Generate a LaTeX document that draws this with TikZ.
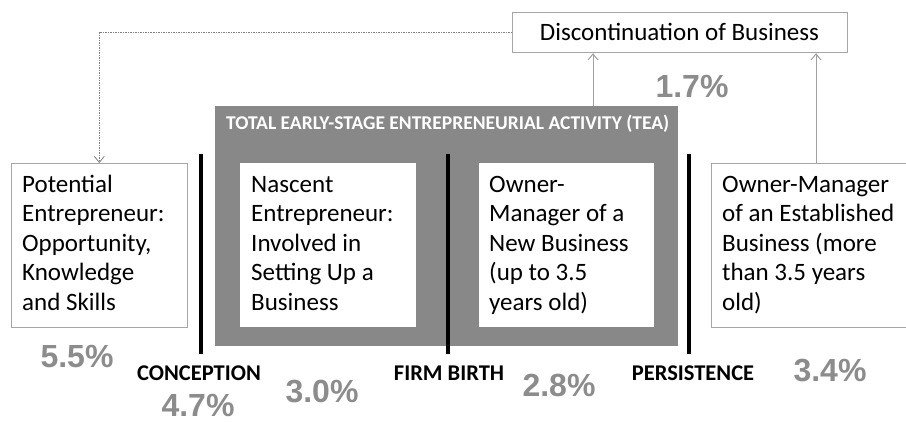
\documentclass[tikz,border=0pt]{standalone}
\usepackage{fontspec}
\setmainfont{Carlito}
\newfontfamily\pctfont{Liberation Sans}
\usetikzlibrary{arrows.meta}
\definecolor{teagray}{HTML}{888888}
\definecolor{pctgray}{HTML}{8C8C8C}
\definecolor{boxgray}{HTML}{A6A6A6}
\definecolor{linegray}{HTML}{A0A0A0}
\begin{document}
\begin{tikzpicture}[x=1pt,y=-1pt,
  framebox/.style={draw=boxgray,line width=1.2pt,fill=white,anchor=north west,inner sep=0pt,minimum height=164pt},
  innerbox/.style={fill=white,anchor=north west,inner sep=0pt,minimum height=164pt},
  boxtext/.style={anchor=base west,align=left,inner sep=0pt,font=\fontsize{25}{29.5}\selectfont},
  pct/.style={anchor=base,inner sep=0pt,text=pctgray,font=\pctfont\bfseries\fontsize{32}{36}\selectfont},
  stagelabel/.style={anchor=base,inner sep=0pt,font=\bfseries\fontsize{22.5}{26}\selectfont},
  bar/.style={line width=3.5pt,black},
  conn/.style={draw=linegray,line width=1pt,-{Straight Barb[length=6pt,width=10pt]}},
  dotconn/.style={draw=gray,line width=0.8pt,dash pattern=on 1.5pt off 1pt,-{Straight Barb[length=6pt,width=10pt]}}
]
\useasboundingbox (0,0) rectangle (906,421);
\fill[white] (0,0) rectangle (906,421);

% discontinuation box
\node[draw=boxgray,line width=1.2pt,fill=white,anchor=north west,inner sep=0pt,minimum width=335pt,minimum height=40pt] (disc) at (512,12) {};
\node[anchor=base,inner sep=0pt,font=\fontsize{25}{30}\selectfont] (disct) at (679.5,40) {Discontinuation of Business};

% TEA box
\node[fill=teagray,anchor=north west,inner sep=0pt,minimum width=463pt,minimum height=240pt] (tea) at (215,106) {};
\node[anchor=base west,inner sep=0pt,text=white,font=\bfseries\fontsize{19.5}{23}\selectfont] (teat) at (226,129) {TOTAL EARLY-STAGE ENTREPRENEURIAL ACTIVITY (TEA)};

% stage boxes (text anchored at the baseline of its last line)
\node[framebox,minimum width=176pt] (pot) at (10.7,163) {};
\node[boxtext] (pott) at (22,310) {Potential\\Entrepreneur:\\Opportunity,\\Knowledge\\and Skills};

\node[innerbox,minimum width=176pt] (nas) at (240,163) {};
\node[boxtext] (nast) at (251,310) {Nascent\\Entrepreneur:\\Involved in\\Setting Up a\\Business};

\node[innerbox,minimum width=175pt] (new) at (479,163) {};
\node[boxtext] (newt) at (489,310) {Owner-\\Manager of a\\New Business\\(up to 3.5\\years old)};

\node[framebox,minimum width=210pt] (est) at (711,163) {};
\node[boxtext] (estt) at (722,310) {Owner-Manager\\of an Established\\Business (more\\than 3.5 years\\old)};

% bars
\draw[bar] (201,154) -- (201,354);
\draw[bar] (448,154) -- (448,354);
\draw[bar] (689,154) -- (689,354);

% connectors
\coordinate (a1) at (593,0);
\coordinate (a2) at (816,0);
\draw[conn] (tea.north -| a1) -- (disc.south -| a1);
\draw[conn] (est.north -| a2) -- (disc.south -| a2);
\draw[dotconn] (disc.west) -| (pot.north);

% stage labels
\node[stagelabel] (lconc) at (199,380) {CONCEPTION};
\node[stagelabel] (lbirth) at (449,380) {FIRM BIRTH};
\node[stagelabel] (lpers) at (693,380) {PERSISTENCE};

% percentages
\node[pct] (p17) at (692,97) {1.7\%};
\node[pct] (p55) at (77,367) {5.5\%};
\node[pct] (p47) at (198,416) {4.7\%};
\node[pct] (p30) at (322,402) {3.0\%};
\node[pct] (p28) at (559,396) {2.8\%};
\node[pct] (p34) at (830,381) {3.4\%};
\end{tikzpicture}
\end{document}
